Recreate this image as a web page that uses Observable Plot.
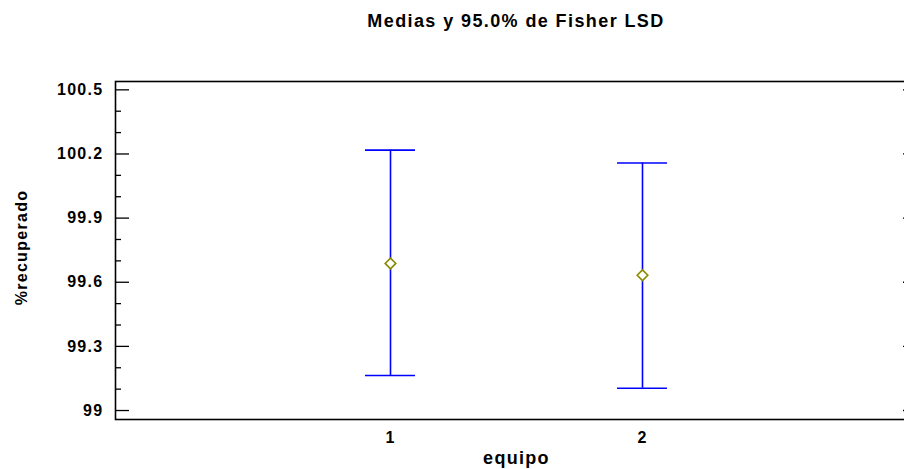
<!DOCTYPE html>
<html>
<head>
<meta charset="utf-8">
<script src="https://cdn.jsdelivr.net/npm/d3@7"></script>
<script src="https://cdn.jsdelivr.net/npm/@observablehq/plot@0.6"></script>
<style>
  html, body { margin: 0; padding: 0; background: #fff; overflow: hidden; width: 904px; height: 469px; }
  #title { height: 60px; box-sizing: border-box; padding-top: 11px; padding-left: 115px; width: 917px;
    font-family: Arial, "Liberation Sans", sans-serif; font-weight: bold; font-size: 18px; letter-spacing: 1.4px;
    text-align: center; line-height: 20px; color: #000; white-space: nowrap; }
  #chart { width: 920px; }
  svg text { letter-spacing: 1.3px; }
</style>
</head>
<body>
<div id="title"></div>
<div id="chart"></div>
<script>
const titleText = "Medias y 95.0% de Fisher LSD";
const xLabel = "equipo";
const yLabel = "%recuperado";
const groups = ["1", "2"];
const means = [99.688, 99.633];
const lower = [99.164, 99.104];
const upper = [100.218, 100.158];
const majorTicks = [99, 99.3, 99.6, 99.9, 100.2, 100.5];
const minorTicks = [99.1, 99.2, 99.4, 99.5, 99.7, 99.8, 100.0, 100.1, 100.3, 100.4];

document.getElementById("title").textContent = titleText;

const data = groups.map((g, i) => ({group: g, mean: means[i], lo: lower[i], hi: upper[i]}));

const chart = Plot.plot({
  width: 920,
  height: 409,
  marginLeft: 115,
  marginRight: 3,
  marginTop: 21,
  marginBottom: 50,
  style: {fontFamily: "Arial, 'Liberation Sans', sans-serif", fontWeight: "bold", fontSize: "16px", color: "#000", background: "#fff", maxWidth: "none"},
  x: {type: "band", domain: groups, paddingInner: 0.8, paddingOuter: 0.987, label: null},
  y: {domain: [98.958, 100.539], label: null},
  marks: [
    Plot.axisY({ticks: majorTicks, tickSize: 0, tickPadding: 12, tickFormat: d => String(d), fontSize: 16, label: null}),
    Plot.axisX({tickSize: 0, tickPadding: 12, fontSize: 16, label: null}),
    // inward ticks on left and right
    Plot.ruleY(majorTicks, {y: d => d, stroke: "#000", strokeWidth: 1.3, insetRight: 802 - 14}),
    Plot.ruleY(minorTicks, {y: d => d, stroke: "#000", strokeWidth: 1.3, insetRight: 802 - 6}),
    Plot.ruleY(majorTicks, {y: d => d, stroke: "#000", strokeWidth: 1.3, insetLeft: 802 - 14}),
    Plot.ruleY(minorTicks, {y: d => d, stroke: "#000", strokeWidth: 1.3, insetLeft: 802 - 6}),
    Plot.frame({stroke: "#000", strokeWidth: 1.6}),
    Plot.ruleX(data, {x: "group", y1: "lo", y2: "hi", stroke: "#0000ff", strokeWidth: 1.6}),
    Plot.tickY(data, {x: "group", y: "lo", stroke: "#0000ff", strokeWidth: 1.6}),
    Plot.tickY(data, {x: "group", y: "hi", stroke: "#0000ff", strokeWidth: 1.6}),
    Plot.dot(data, {x: "group", y: "mean", symbol: "diamond2", r: 4.8, stroke: "#8a8a00", strokeWidth: 1.6, fill: "#fff"}),
    Plot.text([xLabel], {text: d => d, frameAnchor: "bottom", dy: 44, fontSize: 18, fontWeight: "bold"}),
    Plot.text([yLabel], {text: d => d, frameAnchor: "left", textAnchor: "middle", dx: -94, dy: -3, rotate: -90, fontSize: 16, fontWeight: "bold"})
  ]
});
document.getElementById("chart").appendChild(chart);
</script>
</body>
</html>
